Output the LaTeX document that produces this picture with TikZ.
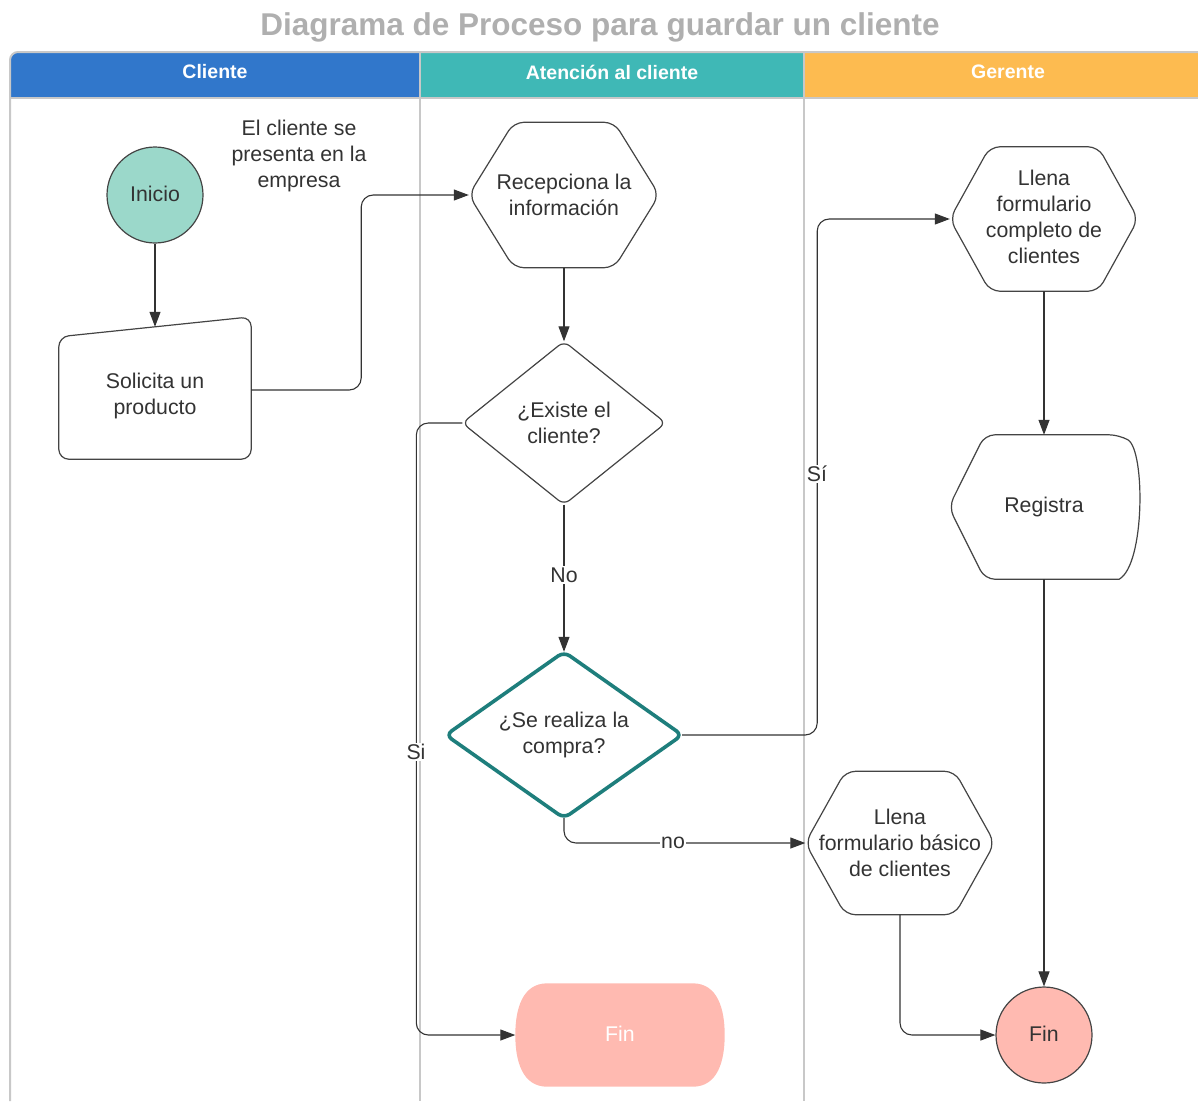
\documentclass[tikz,border=0pt]{standalone}
\usepackage{fontspec}
\setmainfont{Liberation Sans}
\usetikzlibrary{arrows.meta,calc}
\definecolor{ink}{HTML}{333333}
\definecolor{edge}{HTML}{444444}
\definecolor{lane}{HTML}{C8C8C8}
\definecolor{titlegray}{HTML}{AFAFAF}
\definecolor{hblue}{HTML}{3177CB}
\definecolor{hteal}{HTML}{3FB8B6}
\definecolor{horange}{HTML}{FDBB50}
\definecolor{mint}{HTML}{9BD8CA}
\definecolor{pink}{HTML}{FFBAB1}
\definecolor{tealedge}{HTML}{1E7E7C}
\pgfdeclarelayer{back}
\pgfdeclarelayer{bg}
\pgfsetlayers{back,bg,main}
\newcommand\hexshape[2]{%
  \path[shp] (#1.west) -- ($(#1.north west)+(#2,0)$) -- ($(#1.north east)+(-#2,0)$) -- (#1.east) -- ($(#1.south east)+(-#2,0)$) -- ($(#1.south west)+(#2,0)$) -- cycle;}
\begin{document}
\begin{tikzpicture}[x=1pt,y=-1pt,
  txt/.style={font=\fontsize{21.3}{26}\selectfont, text=ink, align=center},
  box/.style={txt, inner sep=0pt},
  shp/.style={draw=edge, line width=1.2pt, fill=white, rounded corners=10pt},
  conn/.style={draw=ink, line width=1.1pt, rounded corners=12pt, -{Triangle[length=15pt,width=11pt]}},
  lbl/.style={txt, fill=white, inner sep=1.5pt},
  hdr/.style={font=\fontsize{19.5}{22}\selectfont\bfseries, text=white}]
\useasboundingbox (0,0) rectangle (1198,1101);

% title
\node[font=\fontsize{31.5}{34}\selectfont\bfseries, text=titlegray] (title) at (600,27) {Diagrama de Proceso para guardar un cliente};

% lanes
\begin{pgfonlayer}{back}
  \fill[hblue] (10,98) [rounded corners=8pt] -- (10,52) [sharp corners] -- (420,52) -- (420,98) -- cycle;
  \fill[hteal] (420,52) rectangle (804,98);
  \fill[horange] (804,52) rectangle (1198,98);
  \draw[lane, line width=2pt] (10,1101) [rounded corners=8pt] -- (10,52) [sharp corners] -- (1198,52);
  \draw[lane, line width=2pt] (10,98) -- (1198,98);
  \draw[lane, line width=2pt] (420,52) -- (420,1101);
  \draw[lane, line width=2pt] (804,52) -- (804,1101);
\end{pgfonlayer}
\node[hdr] (h1) at (215,72) {Cliente};
\node[hdr] (h2) at (612,72) {Atención al cliente};
\node[hdr] (h3) at (1008,72) {Gerente};

% nodes
\node[circle, draw=edge, line width=1.2pt, fill=mint, minimum size=96pt, inner sep=0pt, txt] (ini) at (155,195) {\raisebox{2.5pt}{Inicio}};
\node[txt] (note) at (299,156) {El cliente se\\presenta en la\\empresa};
\node[box, minimum width=192pt, minimum height=138pt] (sol) at (155,396) {Solicita un\\producto};
\node[box, minimum width=190pt, minimum height=145pt] (rec) at (564,195) {Recepciona la\\información};
\node[box, minimum width=203pt, minimum height=163pt] (ex) at (564,423) {¿Existe el\\cliente?};
\node[box, minimum width=236pt, minimum height=166pt] (sr) at (564,735) {¿Se realiza la\\compra?};
\node[box, minimum width=188pt, minimum height=144pt] (llc) at (1044,219) {\raisebox{3pt}{\begin{tabular}{@{}c@{}}Llena\\formulario\\completo de\\clientes\end{tabular}}};
\node[box, minimum width=190pt, minimum height=144pt] (reg) at (1044,507) {Registra};
\node[box, minimum width=189pt, minimum height=143pt] (llb) at (900,843) {Llena\\formulario básico\\de clientes};
\node[box, minimum width=209pt, minimum height=103pt, text=white] (fin1) at (620,1035) {\raisebox{2.5pt}{Fin}};
\node[circle, draw=edge, line width=1.2pt, fill=pink, minimum size=96pt, inner sep=0pt, txt] (fin2) at (1044,1035) {\raisebox{2.5pt}{Fin}};

\begin{pgfonlayer}{bg}
  \path[shp] ($(sol.south west)+(0,-6)$) -- ($(sol.north west)+(0,10)$) -- ($(sol.north east)+(0,-10)$) -- ($(sol.south east)+(0,-6)$) -- cycle;
  \hexshape{rec}{45}
  \hexshape{llc}{40}
  \hexshape{llb}{40}
  \path[shp, rounded corners=7pt] (ex.north) -- (ex.east) -- (ex.south) -- (ex.west) -- cycle;
  \path[shp, draw=tealedge, line width=3.6pt, rounded corners=7pt] (sr.north) -- (sr.east) -- (sr.south) -- (sr.west) -- cycle;
  \path[shp] (reg.west) -- ($(reg.north west)+(36,0)$) -- ($(reg.north east)+(-20,0)$)
     [sharp corners] .. controls ($(reg.north east)+(6,15)$) and ($(reg.south east)+(6,-15)$) .. ($(reg.south east)+(-20,0)$)
     [rounded corners=10pt] -- ($(reg.south west)+(36,0)$) -- cycle;
  \fill[pink] ($(fin1.north west)+(32,0)$) -- ($(fin1.north east)+(-32,0)$)
     .. controls ($(fin1.north east)+(-7,0)$) and ($(fin1.east)+(0,-26)$) .. (fin1.east)
     .. controls ($(fin1.east)+(0,26)$) and ($(fin1.south east)+(-7,0)$) .. ($(fin1.south east)+(-32,0)$)
     -- ($(fin1.south west)+(32,0)$)
     .. controls ($(fin1.south west)+(7,0)$) and ($(fin1.west)+(0,26)$) .. (fin1.west)
     .. controls ($(fin1.west)+(0,-26)$) and ($(fin1.north west)+(7,0)$) .. cycle;
\end{pgfonlayer}

% connectors
\draw[conn] (ini.south) -- (sol.north);
\draw[conn] ($(sol.east)+(0,-6)$) -- ++(110,0) |- (rec.west);
\draw[conn] (rec.south) -- (ex.north);
\draw[conn] (ex.west) -- ++(-46,0) |- (fin1.west);
\draw[conn] (ex.south) -- (sr.north);
\draw[conn] (sr.east) -- ++(135,0) |- (llc.west);
\draw[conn] (sr.south) |- (llb.west);
\draw[conn] (llc.south) -- (reg.north);
\draw[conn] (reg.south) -- (fin2.north);
\draw[conn] (llb.south) |- (fin2.west);

% labels
\node[lbl] (lsi) at (416,752) {Si};
\node[lbl] (lno) at (564,575) {No};
\node[lbl] (lsi2) at (817,474) {Sí};
\node[lbl] (lno2) at (673,843) {no};
\end{tikzpicture}
\end{document}
